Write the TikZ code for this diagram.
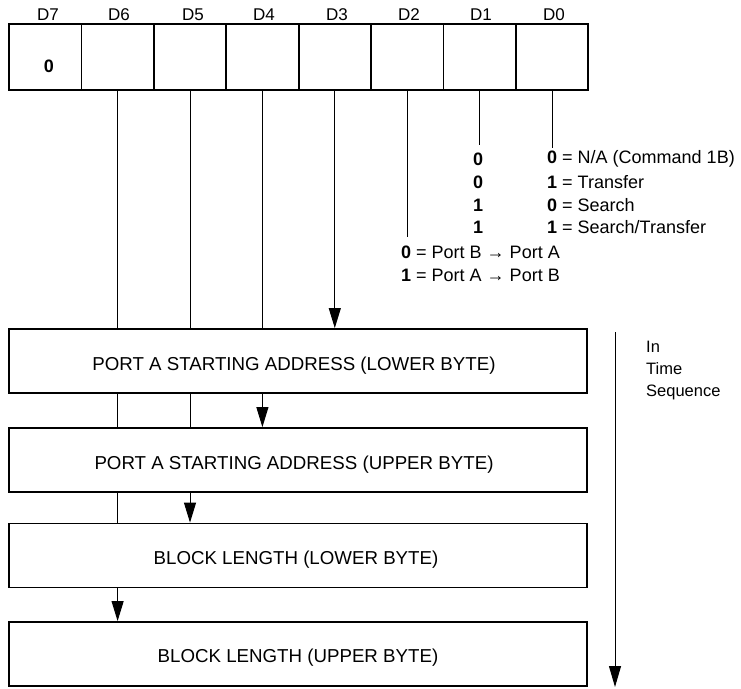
\documentclass[tikz,border=0pt]{standalone}
\usepackage{fontspec}
\setmainfont{Liberation Sans}
\usetikzlibrary{arrows.meta}
\begin{document}
\begin{tikzpicture}[x=1pt,y=-1pt,
  cell/.style={draw,line width=1.8pt,minimum width=72.4pt,minimum height=66pt,inner sep=0pt},
  bitlab/.style={font=\fontsize{17}{17}\selectfont,anchor=center},
  bigbox/.style={draw,line width=1.8pt,minimum width=578pt,minimum height=64pt,inner sep=0pt},
  boxtext/.style={font=\fontsize{18.7}{19}\selectfont},
  sig/.style={line width=1pt},
  sigarrow/.style={line width=1pt,-{Triangle[length=20pt,width=12pt]}},
  tab/.style={font=\fontsize{18}{18}\selectfont,inner sep=0pt},
  tabb/.style={font=\fontsize{18}{18}\selectfont\bfseries,inner sep=0pt},
  side/.style={font=\fontsize{16.5}{17}\selectfont,inner sep=0pt,anchor=west},
]
\useasboundingbox (0,0) rectangle (741,688);
% register cells
\node[cell] (c7) at (45.2,57) {};
\node[cell] (c6) at (117.6,57) {};
\node[cell] (c5) at (190,57) {};
\node[cell] (c4) at (262.4,57) {};
\node[cell] (c3) at (334.8,57) {};
\node[cell] (c2) at (407.2,57) {};
\node[cell] (c1) at (479.6,57) {};
\node[cell] (c0) at (552,57) {};
% bit labels
\node[bitlab] (l7) at (48,15) {D7};
\node[bitlab] (l6) at (119,15) {D6};
\node[bitlab] (l5) at (193,15) {D5};
\node[bitlab] (l4) at (264,15) {D4};
\node[bitlab] (l3) at (337,15) {D3};
\node[bitlab] (l2) at (409,15) {D2};
\node[bitlab] (l1) at (481,15) {D1};
\node[bitlab] (l0) at (554,15) {D0};
\node[font=\fontsize{18}{18}\selectfont\bfseries] (z7) at (49,66) {0};
% big boxes
\node[bigbox] (b1) at (298,361) {};
\node[boxtext] (t1) at (294,366) {PORT A STARTING ADDRESS (LOWER BYTE)};
\node[bigbox] (b2) at (298,460) {};
\node[boxtext] (t2) at (294,465) {PORT A STARTING ADDRESS (UPPER BYTE)};
\node[bigbox] (b3) at (298,555.5) {};
\node[boxtext] (t3) at (296,560) {BLOCK LENGTH (LOWER BYTE)};
\node[bigbox] (b4) at (298,654) {};
\node[boxtext] (t4) at (298,658) {BLOCK LENGTH (UPPER BYTE)};
% D6
\draw[sig] (c6.south) -- (c6.south |- b1.north);
\draw[sig] (c6.south |- b1.south) -- (c6.south |- b2.north);
\draw[sig] (c6.south |- b2.south) -- (c6.south |- b3.north);
\draw[sigarrow] (c6.south |- b3.south) -- (c6.south |- b4.north);
% D5
\draw[sig] (c5.south) -- (c5.south |- b1.north);
\draw[sig] (c5.south |- b1.south) -- (c5.south |- b2.north);
\draw[sigarrow] (c5.south |- b2.south) -- (c5.south |- b3.north);
% D4
\draw[sig] (c4.south) -- (c4.south |- b1.north);
\draw[sigarrow] (c4.south |- b1.south) -- (c4.south |- b2.north);
% D3
\draw[sigarrow] (c3.south) -- (c3.south |- b1.north);
% D2, D1, D0
\coordinate (e2) at (407.2,237);
\coordinate (e1) at (479.6,145);
\coordinate (e0) at (552,148);
\draw[sig] (c2.south) -- (e2);
\draw[line width=1.3pt] (c1.south) -- (e1);
\draw[sig] (c0.south) -- (e0);
% D1 column values
\node[tabb] (v1a) at (478,159) {0};
\node[tabb] (v1b) at (478,182) {0};
\node[tabb] (v1c) at (478,205) {1};
\node[tabb] (v1d) at (478,227) {1};
% D0 column
\node[tab,anchor=west] (v0a) at (547,159) {\textbf{0} = N/A (Command 1B)};
\node[tab,anchor=west] (v0b) at (547,182) {\textbf{1} = Transfer};
\node[tab,anchor=west] (v0c) at (547,205) {\textbf{0} = Search};
\node[tab,anchor=west] (v0d) at (547,227) {\textbf{1} = Search/Transfer};
% D2 text
\node[tab,anchor=west] (v2a) at (401,252) {\textbf{0} = Port B → Port A};
\node[tab,anchor=west] (v2b) at (401,275) {\textbf{1} = Port A → Port B};
% time arrow
\coordinate (ts) at (615,332);
\coordinate (te) at (615,687);
\draw[line width=1pt,-{Triangle[length=21pt,width=12pt]}] (ts) -- (te);
\node[side] (in) at (646,347) {In};
\node[side] (time) at (646,369) {Time};
\node[side] (seq) at (646,392) {Sequence};
\end{tikzpicture}
\end{document}
